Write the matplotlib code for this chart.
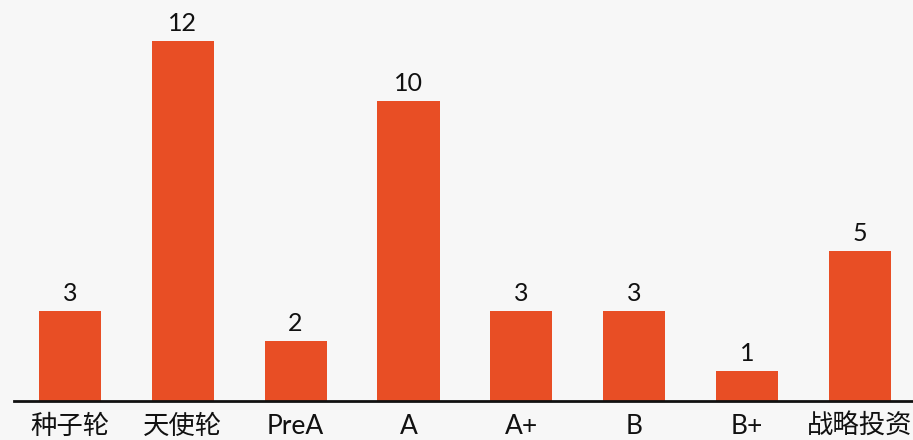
import matplotlib
matplotlib.use("Agg")
import matplotlib.pyplot as plt

categories = ["种子轮", "天使轮", "PreA", "A", "A+", "B", "B+", "战略投资"]
values = [3, 12, 2, 10, 3, 3, 1, 5]

plt.rcParams['font.family'] = ['Lato', 'Noto Sans CJK SC', 'DejaVu Sans']

bg = "#f7f7f7"
bar_color = "#e84e25"

fig = plt.figure(figsize=(9.13, 4.40), dpi=100, facecolor=bg)
ax = fig.add_axes([14 / 913, 39 / 440, 899 / 913, 401 / 440], facecolor=bg)

x = list(range(len(categories)))
bars = ax.bar(x, values, width=0.55, color=bar_color, zorder=2)
for xi, v in zip(x, values):
    ax.text(xi, v + 0.2, str(v), ha="center", va="bottom", fontsize=18, color="#111111")

ax.set_xlim(-0.495, 7.47)
ax.set_ylim(0, 401 / 30)
ax.set_xticks(x)
ax.set_xticklabels(categories, fontsize=19, color="#111111")
ax.tick_params(axis="x", length=0, pad=9)
ax.set_yticks([])
for s in ["top", "right", "left"]:
    ax.spines[s].set_visible(False)
ax.spines["bottom"].set_color("#111111")
ax.spines["bottom"].set_linewidth(2)

fig.savefig("out.png", dpi=100, facecolor=bg)
